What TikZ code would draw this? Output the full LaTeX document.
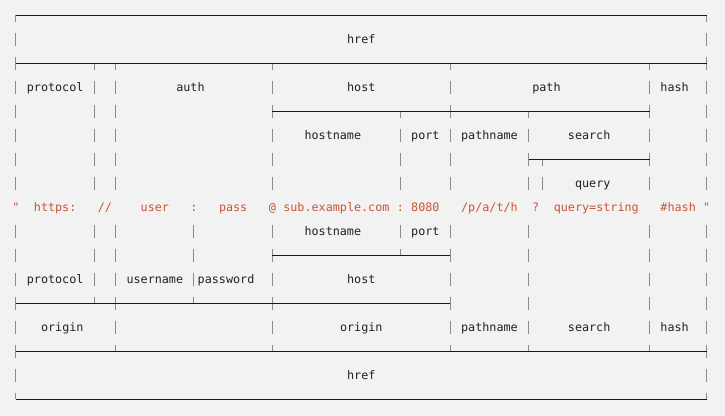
\documentclass[tikz,border=0pt]{standalone}
\usepackage{fontspec}
\setmonofont{DejaVu Sans Mono}
\definecolor{bgcol}{HTML}{F2F2F2}
\definecolor{barcol}{HTML}{8C8C8C}
\definecolor{linecol}{HTML}{1A1A1A}
\definecolor{labcol}{HTML}{222222}
\definecolor{urlcol}{HTML}{C9553A}
\tikzset{
  vbar/.style={draw=barcol, line width=1bp},
  hline/.style={draw=linecol, line width=1bp},
  lab/.style={font=\ttfamily\fontsize{11.8}{14}\selectfont, text=labcol, anchor=mid, inner sep=0pt, yshift=-2.3bp},
  urltok/.style={lab, text=urlcol}
}
\newcommand\fullbars[2]{\foreach \c in {#2}{\draw[vbar] (\c,{#1-0.29}) -- (\c,{#1+0.29});}}
\newcommand\downstubs[2]{\foreach \c in {#2}{\draw[vbar] (\c,{#1}) -- (\c,{#1+0.29});}}
\newcommand\upstubs[2]{\foreach \c in {#2}{\draw[vbar] (\c,{#1-0.29}) -- (\c,{#1});}}
\begin{document}
\begin{tikzpicture}[x=7.12bp, y=-24bp]
\fill[bgcol] (-2.247,-0.6458) rectangle (99.58,16.6875);
\useasboundingbox (-2.247,-0.6458) rectangle (99.58,16.6875);
% vertical glyphs per row
\downstubs{0}{0,97}
\fullbars{1}{0,97}
\fullbars{2}{0,97}\downstubs{2}{11,14,36,61,89}
\fullbars{3}{0,11,14,36,61,89,97}
\fullbars{4}{0,11,14,36,61,89,97}\downstubs{4}{54,72}
\fullbars{5}{0,11,14,36,54,61,72,89,97}
\fullbars{6}{0,11,14,36,54,61,72,89,97}\downstubs{6}{74}
\fullbars{7}{0,11,14,36,54,61,72,74,89,97}
\fullbars{9}{0,11,14,25,36,54,61,72,89,97}
\fullbars{10}{0,11,14,25,36,61,72,89,97}\upstubs{10}{54}
\fullbars{11}{0,11,14,25,36,61,72,89,97}
\fullbars{12}{0,14,36,61,72,89,97}\upstubs{12}{11,25}
\fullbars{13}{0,14,36,61,72,89,97}
\fullbars{14}{0,97}\upstubs{14}{14,36,61,72,89}
\fullbars{15}{0,97}
\upstubs{16}{0,97}
% horizontal rules
\draw[hline] (0,0) -- (97,0);
\draw[hline] (0,2) -- (97,2);
\draw[hline] (36,4) -- (89,4);
\draw[hline] (72,6) -- (89,6);
\draw[hline] (36,10) -- (61,10);
\draw[hline] (0,12) -- (61,12);
\draw[hline] (0,14) -- (97,14);
\draw[hline] (0,16) -- (97,16);
% labels
\node[lab] (hrefTop) at (48.5,1) {href};
\node[lab] (protocolTop) at (5.5,3) {protocol};
\node[lab] (auth) at (24.5,3) {auth};
\node[lab] (hostTop) at (48.5,3) {host};
\node[lab] (path) at (74.5,3) {path};
\node[lab] (hashTop) at (92.5,3) {hash};
\node[lab] (hostnameTop) at (44.5,5) {hostname};
\node[lab] (portTop) at (57.5,5) {port};
\node[lab] (pathnameTop) at (66.5,5) {pathname};
\node[lab] (searchTop) at (80.5,5) {search};
\node[lab] (query) at (81,7) {query};
\node[lab] (hostnameBot) at (44.5,9) {hostname};
\node[lab] (portBot) at (57.5,9) {port};
\node[lab] (protocolBot) at (5.5,11) {protocol};
\node[lab] (username) at (19.5,11) {username};
\node[lab] (password) at (29.5,11) {password};
\node[lab] (hostBot) at (48.5,11) {host};
\node[lab] (originL) at (6.5,13) {origin};
\node[lab] (originR) at (48.5,13) {origin};
\node[lab] (pathnameBot) at (66.5,13) {pathname};
\node[lab] (searchBot) at (80.5,13) {search};
\node[lab] (hashBot) at (92.5,13) {hash};
\node[lab] (hrefBot) at (48.5,15) {href};
% URL string
\node[urltok] (q1) at (0,8) {"};
\node[urltok] (u1) at (5.5,8) {https:};
\node[urltok] (u2) at (12.5,8) {//};
\node[urltok] (u3) at (19.5,8) {user};
\node[urltok] (u4) at (25,8) {:};
\node[urltok] (u5) at (30.5,8) {pass};
\node[urltok] (u6) at (36,8) {@};
\node[urltok] (u7) at (45,8) {sub.example.com};
\node[urltok] (u8) at (54,8) {:};
\node[urltok] (u9) at (57.5,8) {8080};
\node[urltok] (u10) at (66.5,8) {/p/a/t/h};
\node[urltok] (u11) at (73,8) {?};
\node[urltok] (u12) at (81.5,8) {query=string};
\node[urltok] (u13) at (93,8) {\#hash};
\node[urltok] (q2) at (97,8) {"};
\end{tikzpicture}
\end{document}
